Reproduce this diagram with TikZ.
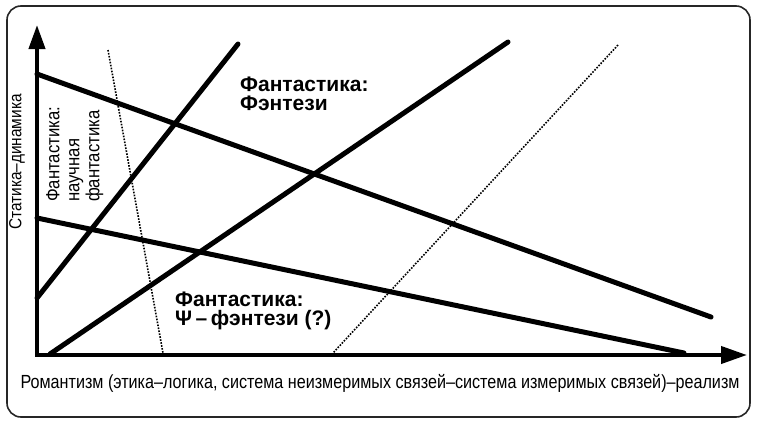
\documentclass[tikz,border=0pt]{standalone}
\usepackage{fontspec}
\setmainfont{Liberation Sans}
\newfontfamily\narrowfont[FakeStretch=0.88]{Liberation Sans}
\newfontfamily\axisfont[FakeStretch=0.85]{Liberation Sans}
\usetikzlibrary{positioning,arrows.meta}

\begin{document}
\begin{tikzpicture}[
    x=1pt, y=1pt,
    frame/.style={draw=black!85, line width=1.6pt, rounded corners=14pt},
    axis/.style={line width=4pt, {Triangle[length=24pt,width=16pt]}-{Triangle[length=26pt,width=17pt]}},
    trend/.style={line width=5pt, line cap=round},
    bound/.style={line width=1.6pt, dash pattern=on 1.6pt off 1.4pt},
    genre/.style={font=\fontsize{21}{19}\selectfont\bfseries, align=left, inner sep=0pt},
    axislabel/.style={font=\narrowfont\fontsize{19}{20}\selectfont, inner sep=0pt}
]
\useasboundingbox (0,0) rectangle (757,-421);

% Frame
\draw[frame] (7,-6) rectangle (750,-417);

% Axes
\coordinate (O) at (37,-355);
\coordinate (ytip) at (37,-25);
\coordinate (xtip) at (747,-355);
\draw[axis] (ytip) -- (O) -- (xtip);

% Trend lines
\coordinate (u1) at (37,-74);  \coordinate (u2) at (711,-317);
\coordinate (l1) at (37,-218); \coordinate (l2) at (684,-353);
\coordinate (s1) at (37,-298); \coordinate (s2) at (238,-44);
\coordinate (f1) at (50,-354); \coordinate (f2) at (508,-42);
\draw[trend] (u1) -- (u2);
\draw[trend] (l1) -- (l2);
\draw[trend] (s1) -- (s2);
\draw[trend] (f1) -- (f2);

% Dotted boundaries
\coordinate (d1) at (108,-50); \coordinate (d2) at (163,-353);
\coordinate (e1) at (618,-45); \coordinate (e2) at (333,-353);
\draw[bound] (d1) -- (d2);
\draw[bound] (e1) -- (e2);

% Genre labels
\node[genre, anchor=north west] (fantasy) at (240,-77) {Фантастика:\\Фэнтези};
\node[genre, anchor=north west] (psi) at (175,-292) {Фантастика:\\Ψ\,–\,фэнтези (?)};
\node[axislabel, rotate=90, anchor=north west, align=left] (scifi) at (46,-202) {Фантастика:\\научная\\фантастика};

% Axis labels
\node[axislabel, font=\narrowfont\fontsize{17.5}{18}\selectfont, rotate=90] (ylabel) at (17,-162) {Статика–динамика};
\node[axislabel, font=\axisfont\fontsize{19}{20}\selectfont, anchor=base] (xlabel) at (380,-388) {Романтизм (этика–логика, система неизмеримых связей–система измеримых связей)–реализм};

\end{tikzpicture}
\end{document}
